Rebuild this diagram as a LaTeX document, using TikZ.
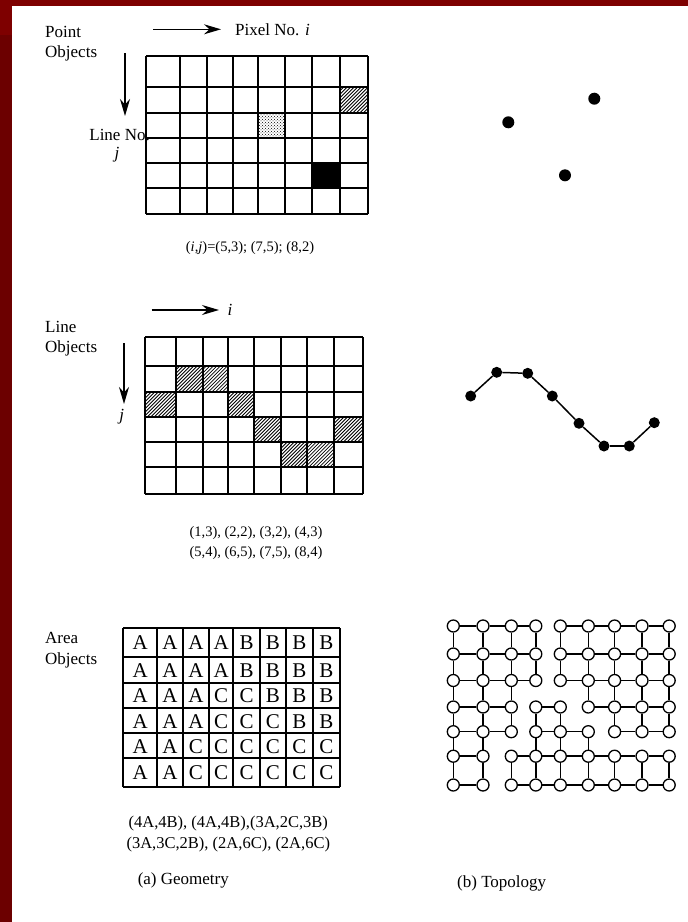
\documentclass[tikz,border=0pt]{standalone}
\usepackage{fontspec}
\setmainfont{Liberation Serif}
\usetikzlibrary{patterns,arrows.meta}
\definecolor{bgred}{RGB}{108,0,0}
\definecolor{bgredl}{RGB}{126,0,0}
\tikzset{
 gridline/.style={line width=1.9pt},
 lbl/.style={font=\fontsize{17}{20}\selectfont, inner sep=0pt},
 captext/.style={font=\fontsize{14.5}{17}\selectfont, inner sep=0pt},
 captextb/.style={font=\fontsize{16.5}{19}\selectfont, inner sep=0pt},
 cellletter/.style={font=\fontsize{21}{24}\selectfont, inner sep=0pt},
 axisarrow/.style={line width=1.4pt, -{Stealth[length=17pt,width=10pt]}},
 ptdot/.style={circle, fill=black, inner sep=0pt, minimum size=12pt},
 ldot/.style={circle, fill=black, inner sep=0pt, minimum size=11pt},
 tnode/.style={circle, draw, line width=1.3pt, fill=white, inner sep=0pt, minimum size=12pt},
 tedge/.style={line width=1.5pt},
 hatchline/.style={line width=0.8pt},
}
\newcommand{\hatchcell}[4]{%
  \begin{scope}
    \clip (#1,#2) rectangle (#3,#4);
    \foreach \k in {-36,-32.5,...,34}{\draw[hatchline] ({#1+\k},#4) -- ++(40,-40);}
  \end{scope}}
\def\GxA{146,180,206.7,233.3,258.3,285,311.7,340,368.3}
\def\GyA{56,87.3,112.7,138.3,163.3,188.3,214}
\def\GxB{145,176,202.7,228.3,254,281,306.7,334.3,363.3}
\def\GyB{337.3,366,391.7,416.7,441.7,466.7,494.3}
\def\GxC{123.3,157.3,182.7,209,233.3,260,286,312.7,340}
\def\GyC{628.3,656.7,682.7,708.3,733.3,758.3,786.7}
\def\TX{453.3,483,511.3,535.8,560.3,588.3,614.6,642,669.2}
\def\TY{626,654,680.5,707,731.7,756.2,785}
\begin{document}
\begin{tikzpicture}[x=1pt,y=-1pt]
\useasboundingbox (0,0) rectangle (688,922);
% background frame
\fill[bgred] (0,0) rectangle (688,922);
\fill[bgredl] (0,0) rectangle (688,6);
\fill[bgredl] (0,0) rectangle (12,35);
\fill[white] (12,6) rectangle (688,922);

% ---------- Grid 1 : point objects ----------
\pgfmathsetmacro\xa{{\GxA}[7]}\pgfmathsetmacro\xb{{\GxA}[8]}
\pgfmathsetmacro\ya{{\GyA}[1]}\pgfmathsetmacro\yb{{\GyA}[2]}
\hatchcell{\xa}{\ya}{\xb}{\yb}
\pgfmathsetmacro\xa{{\GxA}[4]}\pgfmathsetmacro\xb{{\GxA}[5]}
\pgfmathsetmacro\ya{{\GyA}[2]}\pgfmathsetmacro\yb{{\GyA}[3]}
\fill[pattern=crosshatch dots] (\xa,\ya) rectangle (\xb,\yb);
\pgfmathsetmacro\xa{{\GxA}[6]}\pgfmathsetmacro\xb{{\GxA}[7]}
\pgfmathsetmacro\ya{{\GyA}[4]}\pgfmathsetmacro\yb{{\GyA}[5]}
\fill[black] (\xa,\ya) rectangle (\xb,\yb);
\foreach \x in \GxA {\draw[gridline] (\x,56) -- (\x,214);}
\foreach \y in \GyA {\draw[gridline] (146,\y) -- (368.3,\y);}

\coordinate (a1s) at (153,29.3); \coordinate (a1e) at (221,29.3);
\draw[axisarrow] (a1s) -- (a1e);
\coordinate (a2s) at (125,53); \coordinate (a2e) at (125,116);
\draw[axisarrow] (a2s) -- (a2e);
\node[lbl, anchor=west] (pixno) at (235,29.5) {Pixel No. \textit{i}};
\node[lbl, anchor=west] (pointlbl) at (45,31.5) {Point};
\node[lbl, anchor=west] (pointobj) at (45,53.5) {Objects};
\node[lbl, anchor=east] (lineno) at (150,135) {Line No.};
\node[lbl] (jA) at (117,155) {\textit{j}};
\node[captext] (capA) at (250,248) {(\textit{i},\textit{j})=(5,3); (7,5); (8,2)};

% ---------- Grid 2 : line objects ----------
\foreach \c/\r in {2/2,3/2,1/3,4/3,5/4,8/4,6/5,7/5}{
  \pgfmathsetmacro\xa{{\GxB}[\c-1]}\pgfmathsetmacro\xb{{\GxB}[\c]}
  \pgfmathsetmacro\ya{{\GyB}[\r-1]}\pgfmathsetmacro\yb{{\GyB}[\r]}
  \hatchcell{\xa}{\ya}{\xb}{\yb}
}
\foreach \x in \GxB {\draw[gridline] (\x,337.3) -- (\x,494.3);}
\foreach \y in \GyB {\draw[gridline] (145,\y) -- (363.3,\y);}
\coordinate (b1s) at (151.7,310); \coordinate (b1e) at (219,310);
\draw[axisarrow] (b1s) -- (b1e);
\coordinate (b2s) at (124,343); \coordinate (b2e) at (124,404);
\draw[axisarrow] (b2s) -- (b2e);
\node[lbl] (iB) at (230,310) {\textit{i}};
\node[lbl, anchor=west] (linelbl) at (45,326.5) {Line};
\node[lbl, anchor=west] (lineobj) at (45,348.5) {Objects};
\node[lbl] (jB) at (121.7,416.7) {\textit{j}};
\node[captext] (capB1) at (256,533) {(1,3), (2,2), (3,2), (4,3)};
\node[captext] (capB2) at (256,553) {(5,4), (6,5), (7,5), (8,4)};

% ---------- Grid 3 : area objects ----------
\foreach \x in \GxC {\draw[gridline] (\x,628.3) -- (\x,786.7);}
\foreach \y in \GyC {\draw[gridline] (123.3,\y) -- (340,\y);}
\foreach \rowlist [count=\r] in {{A,A,A,A,B,B,B,B},{A,A,A,A,B,B,B,B},{A,A,A,C,C,B,B,B},{A,A,A,C,C,C,B,B},{A,A,C,C,C,C,C,C},{A,A,C,C,C,C,C,C}}{
  \foreach \L [count=\c] in \rowlist {
    \pgfmathsetmacro\xa{{\GxC}[\c-1]}\pgfmathsetmacro\xb{{\GxC}[\c]}
    \pgfmathsetmacro\ya{{\GyC}[\r-1]}\pgfmathsetmacro\yb{{\GyC}[\r]}
    \node[cellletter] (g\r-\c) at ({(\xa+\xb)/2},{(\ya+\yb)/2+0.5}) {\L};
  }
}
\node[lbl, anchor=west] (arealbl) at (45,638.3) {Area};
\node[lbl, anchor=west] (areaobj) at (45,660) {Objects};
\node[captextb] (capC1) at (228.3,823.3) {(4A,4B), (4A,4B),(3A,2C,3B)};
\node[captextb] (capC2) at (228.3,845) {(3A,3C,2B), (2A,6C), (2A,6C)};
\node[lbl] (geom) at (183.3,880) {(a) Geometry};
\node[lbl] (topo) at (501.7,883.3) {(b) Topology};

% ---------- right column ----------
\node[ptdot] (p1) at (508.3,122.3) {};
\node[ptdot] (p2) at (594.3,98.7) {};
\node[ptdot] (p3) at (565,175.3) {};

\foreach \n/\x/\y in {1/470.7/396,2/496.7/372.3,3/527.7/373.3,4/552.3/396,5/579/423.3,6/604/446,7/629.3/446,8/654.3/422.7}{
  \node[ldot] (l\n) at (\x,\y) {};
}
\foreach \a/\b in {1/2,2/3,3/4,4/5,5/6,6/7,7/8}{\draw[tedge] (l\a) -- (l\b);}

\foreach \y [count=\r] in \TY {
  \foreach \x [count=\c] in \TX {
    \node[tnode] (t\r-\c) at (\x,\y) {};
  }
}
\foreach \r/\cs in {1/{1,2,3,5,6,7,8},2/{1,2,3,5,6,7,8},3/{1,2,3,5,6,7,8},4/{1,2,4,6,7,8},5/{1,2,4,5,7,8},6/{1,3,4,5,6,7,8},7/{1,3,4,5,6,7,8}}{
  \foreach \c in \cs {
    \pgfmathtruncatemacro\cn{\c+1}
    \draw[tedge] (t\r-\c) -- (t\r-\cn);
  }
}
\foreach \c/\rs in {1/{1,2,3,4,5,6},2/{1,2,3,4,5,6},3/{1,2,3,4,6},4/{1,2,4,5,6},5/{1,2,4,5,6},6/{1,2,3,5,6},7/{1,2,3,4,6},8/{1,2,3,4,6},9/{1,2,3,4,6}}{
  \foreach \r in \rs {
    \pgfmathtruncatemacro\rn{\r+1}
    \draw[tedge] (t\r-\c) -- (t\rn-\c);
  }
}
\end{tikzpicture}
\end{document}
